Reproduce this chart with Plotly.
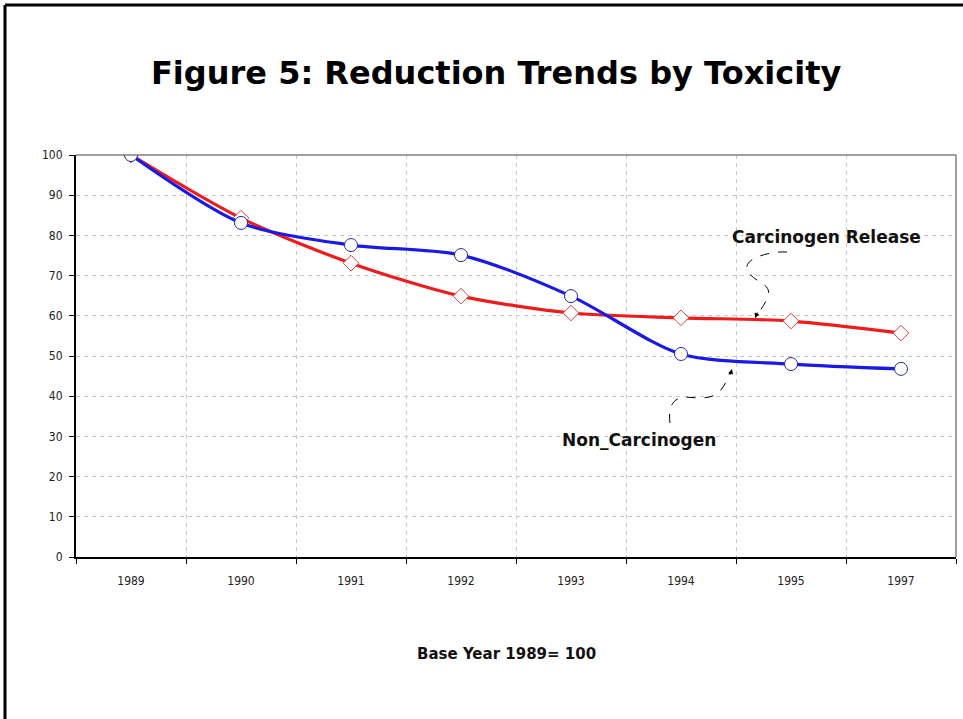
import plotly.graph_objects as go

years = ["1989", "1990", "1991", "1992", "1993", "1994", "1995", "1997"]
carcinogen = [100, 84.3, 73.1, 64.9, 60.7, 59.5, 58.7, 55.7]
non_carcinogen = [100, 83.1, 77.6, 75.1, 64.9, 50.5, 48.0, 46.8]
y_ticks = [0, 10, 20, 30, 40, 50, 60, 70, 80, 90, 100]

W, H = 963, 719
L, R, T, B = 76, 956, 155, 557  # plot area in pixels


def px(x, y):
    return (x - L) / (R - L), (B - y) / (B - T)


def path(points):
    pts = [px(x, y) for x, y in points]
    s = "M %.4f %.4f" % pts[0]
    rest = pts[1:]
    for i in range(0, len(rest) - 2, 3):
        s += " C %.4f %.4f %.4f %.4f %.4f %.4f" % (*rest[i], *rest[i + 1], *rest[i + 2])
    return s


fig = go.Figure()
fig.add_trace(go.Scatter(
    x=years, y=carcinogen, mode="lines+markers", name="Carcinogen Release",
    line=dict(color="#ee1c1c", width=3.2, shape="spline", smoothing=0.8),
    marker=dict(symbol="diamond", size=12, color="white", line=dict(color="#e04040", width=1)),
))
fig.add_trace(go.Scatter(
    x=years, y=non_carcinogen, mode="lines+markers", name="Non_Carcinogen",
    line=dict(color="#1a1ae6", width=3.2, shape="spline", smoothing=0.8),
    marker=dict(symbol="circle", size=13, color="white", line=dict(color="#2a2a9a", width=1)),
))

font_txt = "DejaVu Sans, Liberation Sans, Arial, sans-serif"
font_narrow = "Liberation Sans Narrow, Arial Narrow, DejaVu Sans Condensed, sans-serif"

shapes = []
x0, _ = px(5, 0)
_, y0 = px(0, 5)
_, yb = px(0, 719)
xr, _ = px(963, 0)
shapes.append(dict(type="line", xref="paper", yref="paper", x0=x0, y0=yb, x1=x0, y1=y0,
                   line=dict(color="black", width=3)))
shapes.append(dict(type="line", xref="paper", yref="paper", x0=x0, y0=y0, x1=xr, y1=y0,
                   line=dict(color="black", width=3)))
shapes.append(dict(type="line", xref="paper", yref="paper", x0=0, y0=1, x1=1, y1=1,
                   line=dict(color="#808080", width=1.5)))
shapes.append(dict(type="line", xref="paper", yref="paper", x0=1, y0=0, x1=1, y1=1,
                   line=dict(color="#808080", width=1.5)))
shapes.append(dict(type="path", xref="paper", yref="paper",
                   path=path([(787, 252), (772, 251), (740, 258), (748, 272),
                              (756, 283), (772, 284), (768, 296),
                              (765, 305), (760, 310), (757, 315)]),
                   line=dict(color="black", width=1, dash="dash")))
shapes.append(dict(type="path", xref="paper", yref="paper",
                   path=path([(670, 423), (668, 408), (672, 398), (685, 397),
                              (698, 398), (712, 400), (720, 391),
                              (726, 384), (728, 378), (730, 372)]),
                   line=dict(color="black", width=1, dash="dash")))

annotations = []
tx, ty = px(755, 318)
annotations.append(dict(x=tx, y=ty, xref="paper", yref="paper", text="", showarrow=True,
                        ax=3, ay=-7, arrowhead=2, arrowsize=1, arrowwidth=1, arrowcolor="black"))
tx, ty = px(732, 369)
annotations.append(dict(x=tx, y=ty, xref="paper", yref="paper", text="", showarrow=True,
                        ax=-2, ay=7, arrowhead=2, arrowsize=1, arrowwidth=1, arrowcolor="black"))


def label(x, y, text, size, color="#111"):
    tx, ty = px(x, y)
    annotations.append(dict(x=tx, y=ty, xref="paper", yref="paper", text=text,
                            xanchor="center", yanchor="middle", showarrow=False,
                            font=dict(family=font_txt, size=size, color=color)))


label(826, 237, "<b>Carcinogen Release</b>", 17)
label(639, 440, "<b>Non_Carcinogen</b>", 17)
label(506, 654, "<b>Base Year 1989= 100</b>", 15)
label(496, 73, "<b>Figure 5: Reduction Trends by Toxicity</b>", 32, "black")

fig.update_layout(
    width=W, height=H,
    margin=dict(l=L, r=W - R, t=T, b=H - B, pad=0),
    paper_bgcolor="white", plot_bgcolor="white",
    showlegend=False,
    shapes=shapes, annotations=annotations,
    xaxis=dict(type="category", categoryorder="array", categoryarray=years,
               range=[-0.5, len(years) - 0.5], tickson="boundaries",
               showgrid=True, gridcolor="#c8c8c8", griddash="4px,4px", gridwidth=1,
               showline=True, linecolor="black", linewidth=2,
               ticks="outside", ticklen=5, tickcolor="black", ticklabelstandoff=12,
               tickfont=dict(family=font_narrow, size=12, color="#222"),
               zeroline=False, fixedrange=True),
    yaxis=dict(range=[0, 100], tickvals=y_ticks,
               showgrid=True, gridcolor="#c8c8c8", griddash="4px,4px", gridwidth=1,
               showline=True, linecolor="black", linewidth=2,
               ticks="outside", ticklen=5, tickcolor="black", ticklabelstandoff=4,
               tickfont=dict(family=font_narrow, size=12, color="#222"),
               zeroline=False, fixedrange=True),
)

fig.write_html("out.html", config={"displayModeBar": False},
               post_script="document.body.style.margin='0';document.body.style.overflow='hidden';")
